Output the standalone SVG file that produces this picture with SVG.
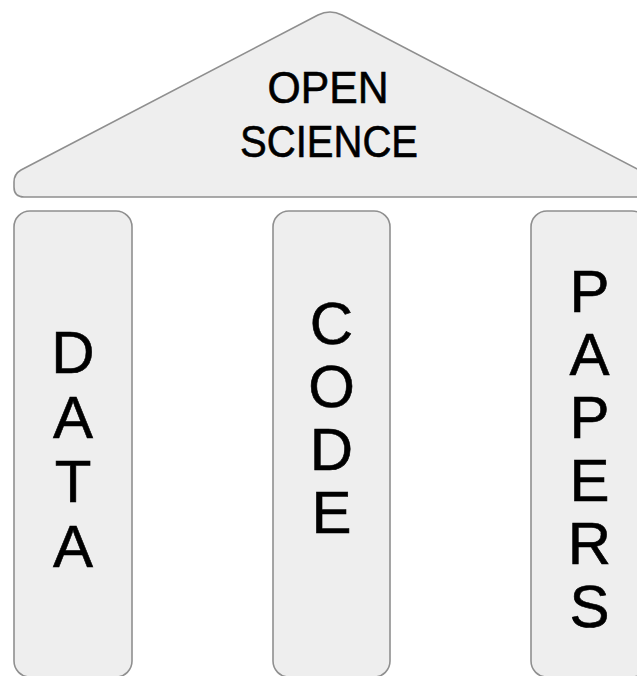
<svg xmlns="http://www.w3.org/2000/svg" width="637" height="676" viewBox="0 0 637 676">
  <style>
    .shape { fill: #eeeeee; stroke: #8f8f8f; stroke-width: 1.6; }
    .lbl { font-family: "Liberation Sans", Arial, sans-serif; fill: #000000; stroke: #000000; stroke-width: 0.6; text-anchor: middle; }
    .roof { font-size: 44px; }
    .col { font-size: 60px; }
  </style>
  <rect x="0" y="0" width="637" height="676" fill="#ffffff"/>
  <g id="roof">
    <path class="shape" d="M 24,197 Q 14,197 14,187 L 14,182 Q 14,174 21,170 L 318,15 Q 324,12 330,12 Q 336,12 342,15 L 639,170 Q 646,174 646,182 L 646,187 Q 646,197 636,197 Z"/>
    <text class="lbl roof" x="328" y="103" textLength="121" lengthAdjust="spacingAndGlyphs">OPEN</text>
    <text class="lbl roof" x="329" y="157" textLength="178" lengthAdjust="spacingAndGlyphs">SCIENCE</text>
  </g>
  <g id="data">
    <rect class="shape" x="14" y="211" width="118" height="466" rx="16"/>
    <text class="lbl col" x="73" y="373">D</text>
    <text class="lbl col" x="73" y="437.5">A</text>
    <text class="lbl col" x="73" y="502">T</text>
    <text class="lbl col" x="73" y="566.5">A</text>
  </g>
  <g id="code">
    <rect class="shape" x="273" y="211" width="117" height="466" rx="16"/>
    <text class="lbl col" x="331.5" y="344">C</text>
    <text class="lbl col" x="331.5" y="407">O</text>
    <text class="lbl col" x="331.5" y="470">D</text>
    <text class="lbl col" x="331.5" y="533">E</text>
  </g>
  <g id="papers">
    <rect class="shape" x="531" y="211" width="117" height="466" rx="16"/>
    <text class="lbl col" x="589.5" y="312">P</text>
    <text class="lbl col" x="589.5" y="375">A</text>
    <text class="lbl col" x="589.5" y="438">P</text>
    <text class="lbl col" x="589.5" y="501">E</text>
    <text class="lbl col" x="589.5" y="564">R</text>
    <text class="lbl col" x="589.5" y="627">S</text>
  </g>
  <g id="connectors"></g>
</svg>
